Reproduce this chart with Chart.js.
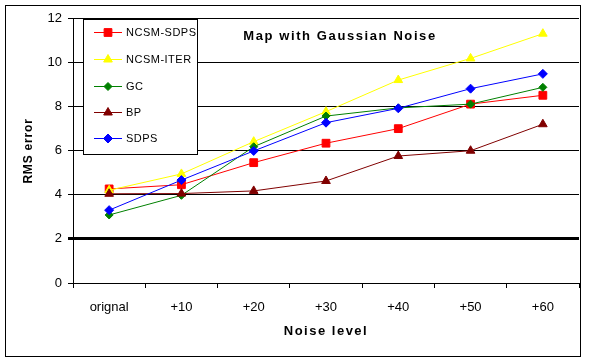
<!DOCTYPE html>
<html>
<head>
<meta charset="utf-8">
<script src="https://cdn.jsdelivr.net/npm/chart.js@4"></script>
<style>
  html, body { margin: 0; padding: 0; background: #fff; }
  canvas { display: block; }
</style>
</head>
<body>
<canvas id="chart" width="589" height="363"></canvas>
<script>
// Données
const categories = ['orignal', '+10', '+20', '+30', '+40', '+50', '+60'];
const ncsmSdps = [4.26, 4.45, 5.45, 6.33, 6.99, 8.10, 8.50];
const ncsmIter = [4.20, 4.94, 6.40, 7.76, 9.19, 10.17, 11.29];
const gc       = [3.08, 3.97, 6.17, 7.56, 7.93, 8.10, 8.86];
const bp       = [4.04, 4.05, 4.17, 4.62, 5.75, 5.99, 7.19];
const sdps     = [3.30, 4.66, 5.98, 7.26, 7.91, 8.80, 9.47];
const seriesNames = ['NCSM-SDPS', 'NCSM-ITER', 'GC', 'BP', 'SDPS'];
const yTicks = [0, 2, 4, 6, 8, 10, 12];

const chartTitle = 'Map with Gaussian Noise';
const xTitle = 'Noise level';
const yTitle = 'RMS error';
const FONT = "'Liberation Sans', Arial, sans-serif";

function makeSet(label, data, color, style, radius, order) {
    return {
        label, data, order,
        borderColor: color,
        backgroundColor: color,
        borderWidth: 1,
        pointStyle: style,
        pointRadius: radius,
        pointBorderWidth: 1,
        pointBackgroundColor: color,
        pointBorderColor: color,
        tension: 0
    };
}

const datasets = [
    makeSet(seriesNames[0], ncsmSdps, '#FF0000', 'rect', 5.5, 4),
    makeSet(seriesNames[1], ncsmIter, '#FFFF00', 'triangle', 5, 3),
    makeSet(seriesNames[2], gc, '#008000', 'rectRot', 4, 2),
    makeSet(seriesNames[3], bp, '#800000', 'triangle', 5, 1),
    makeSet(seriesNames[4], sdps, '#0000FF', 'rectRot', 4.5, 0)
];

// Cadre, titre, légende et titres d'axes dessinés à la main
const decor = {
    id: 'decor',
    afterDraw(chart) {
        const ctx = chart.ctx;
        ctx.save();
        ctx.strokeStyle = '#000';
        ctx.lineWidth = 1;
        ctx.strokeRect(5.5, 5.5, 575, 351);

        ctx.fillStyle = '#000';
        ctx.textAlign = 'center';
        ctx.textBaseline = 'middle';
        ctx.letterSpacing = '1.6px';
        ctx.font = 'bold 13px ' + FONT;
        ctx.fillText(chartTitle, 340, 36);
        ctx.letterSpacing = '1.5px';
        ctx.fillText(xTitle, 326, 331);

        ctx.save();
        ctx.translate(29, 151);
        ctx.rotate(-Math.PI / 2);
        ctx.letterSpacing = '0.8px';
        ctx.font = 'bold 12px ' + FONT;
        ctx.fillText(yTitle, 0, 0);
        ctx.restore();

        // légende
        ctx.letterSpacing = '0.5px';
        ctx.fillStyle = '#fff';
        ctx.fillRect(83, 19, 114, 135);
        ctx.strokeRect(83.5, 19.5, 114, 135);
        const rows = [32, 59, 86, 112, 138];
        chart.data.datasets.forEach((ds, i) => {
            const y = rows[i];
            ctx.strokeStyle = ds.borderColor;
            ctx.lineWidth = 1;
            ctx.beginPath();
            ctx.moveTo(94, y + 0.5);
            ctx.lineTo(122, y + 0.5);
            ctx.stroke();
            ctx.fillStyle = ds.backgroundColor;
            Chart.helpers.drawPoint(ctx, {
                pointStyle: ds.pointStyle, radius: ds.pointRadius, rotation: 0, borderWidth: 1
            }, 108, y + 0.5);
            ctx.fillStyle = '#000';
            ctx.textAlign = 'left';
            ctx.font = '11px ' + FONT;
            ctx.fillText(ds.label, 126, y + 1);
        });
        ctx.restore();
    }
};

new Chart(document.getElementById('chart'), {
    type: 'line',
    data: { labels: categories, datasets },
    options: {
        responsive: false,
        animation: false,
        devicePixelRatio: 1,
        layout: { padding: { top: 18, right: 10, left: 0, bottom: 0 } },
        plugins: {
            legend: { display: false },
            title: { display: false },
            tooltip: { enabled: false }
        },
        scales: {
            x: {
                offset: true,
                afterFit(scale) { scale.height = 80; },
                grid: {
                    offset: true,
                    drawOnChartArea: false,
                    drawTicks: true,
                    tickLength: 5,
                    color: '#000'
                },
                border: { color: '#000', width: 1 },
                ticks: {
                    color: '#000',
                    padding: 12,
                    maxRotation: 0,
                    font: { family: FONT, size: 13 }
                }
            },
            y: {
                min: 0,
                max: 12,
                afterFit(scale) { scale.width = 73; },
                afterBuildTicks(scale) { scale.ticks = yTicks.map(v => ({ value: v })); },
                grid: {
                    color: '#000',
                    lineWidth: c => (c.tick && c.tick.value === 2 ? 3 : 1),
                    drawTicks: true,
                    tickLength: 5
                },
                border: { color: '#000', width: 1 },
                ticks: {
                    color: '#000',
                    padding: 6,
                    font: { family: FONT, size: 13 }
                }
            }
        }
    },
    plugins: [decor]
});
</script>
</body>
</html>
